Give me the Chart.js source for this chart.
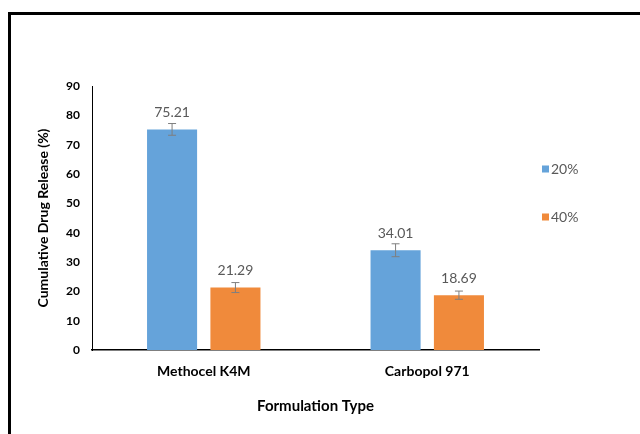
<!DOCTYPE html>
<html>
<head>
<meta charset="utf-8">
<script src="https://cdn.jsdelivr.net/npm/chart.js@4.4.1/dist/chart.umd.min.js"></script>
<style>
  html, body { margin: 0; padding: 0; background: #fff; }
  #wrap { position: relative; width: 640px; height: 434px; overflow: hidden; }
  #frame {
    position: absolute; left: 8px; top: 12px; width: 700px; height: 500px;
    border-top: 3px solid #000; border-left: 3px solid #000; pointer-events: none;
  }
</style>
</head>
<body>
<div id="wrap">
  <canvas id="chart" width="640" height="434"></canvas>
  <div id="frame"></div>
</div>
<script>
// Chart data
const categories = ['Methocel K4M', 'Carbopol 971'];
const seriesLabels = ['20%', '40%'];
const release20 = [75.21, 34.01];
const release40 = [21.29, 18.69];
const error20 = [2.0, 2.2];
const error40 = [1.7, 1.4];
const yTicks = [0, 10, 20, 30, 40, 50, 60, 70, 80, 90];

const colors = { blue: '#65A3DA', orange: '#F08A3B', label: '#595959', whisker: '#7F7F7F' };
const font = 'Lato, "Open Sans", sans-serif';

// Error bars, value labels and legend drawn on top of the bars
const overlayPlugin = {
    id: 'overlay',
    afterDatasetsDraw: function (chart) {
        const ctx = chart.ctx;
        const y = chart.scales.y;
        ctx.save();
        chart.data.datasets.forEach((ds, di) => {
            const meta = chart.getDatasetMeta(di);
            meta.data.forEach((bar, i) => {
                const v = ds.data[i];
                const e = ds.errors[i];
                const top = y.getPixelForValue(v + e);
                const bot = y.getPixelForValue(v - e);
                ctx.strokeStyle = colors.whisker;
                ctx.lineWidth = 1;
                ctx.beginPath();
                ctx.moveTo(bar.x, top); ctx.lineTo(bar.x, bot);
                ctx.moveTo(bar.x - 4, top); ctx.lineTo(bar.x + 4, top);
                ctx.moveTo(bar.x - 4, bot); ctx.lineTo(bar.x + 4, bot);
                ctx.stroke();

                ctx.fillStyle = colors.label;
                ctx.font = '14px ' + font;
                ctx.textAlign = 'center';
                ctx.textBaseline = 'middle';
                ctx.fillText(v.toFixed(2), bar.x, bar.y - 17);
            });
        });

        // legend
        const legendY = [169, 217];
        chart.data.datasets.forEach((ds, di) => {
            ctx.fillStyle = ds.backgroundColor;
            ctx.fillRect(542, legendY[di] - 3.5, 7, 7);
            ctx.fillStyle = colors.label;
            ctx.font = '14px ' + font;
            ctx.textAlign = 'left';
            ctx.textBaseline = 'middle';
            ctx.fillText(ds.label, 551, legendY[di]);
        });
        ctx.restore();
    }
};

new Chart(document.getElementById('chart'), {
    type: 'bar',
    data: {
        labels: categories,
        datasets: [
            { label: seriesLabels[0], data: release20, errors: error20, backgroundColor: colors.blue },
            { label: seriesLabels[1], data: release40, errors: error40, backgroundColor: colors.orange }
        ]
    },
    options: {
        responsive: false,
        animation: false,
        events: [],
        layout: { padding: { left: 0, top: 86, right: 101, bottom: 0 } },
        datasets: { bar: { categoryPercentage: 0.567, barPercentage: 0.79 } },
        plugins: { legend: { display: false }, tooltip: { enabled: false } },
        scales: {
            x: {
                grid: { display: false, drawTicks: false },
                border: { display: true, color: '#000', width: 1.5 },
                ticks: { color: '#000', padding: 13, font: { family: font, size: 14, weight: 'bold' } },
                title: {
                    display: true, text: 'Formulation Type', color: '#000',
                    font: { family: font, size: 15, weight: 'bold' },
                    padding: { top: 0, bottom: 19 }
                },
                afterFit: function (scale) { scale.height = 84; }
            },
            y: {
                min: 0, max: 90,
                afterBuildTicks: function (scale) { scale.ticks = yTicks.map(v => ({ value: v })); },
                grid: { display: false, drawTicks: false },
                border: { display: true, color: '#000', width: 1 },
                ticks: { color: '#000', padding: 12, font: { family: font, size: 12, weight: 'bold' } },
                title: {
                    display: true, text: 'Cumulative Drug Release (%)', color: '#000',
                    font: { family: font, size: 14, weight: 'bold' },
                    padding: { top: 35, bottom: 0 }
                },
                afterFit: function (scale) { scale.width = 92; }
            }
        }
    },
    plugins: [overlayPlugin]
});
</script>
</body>
</html>
